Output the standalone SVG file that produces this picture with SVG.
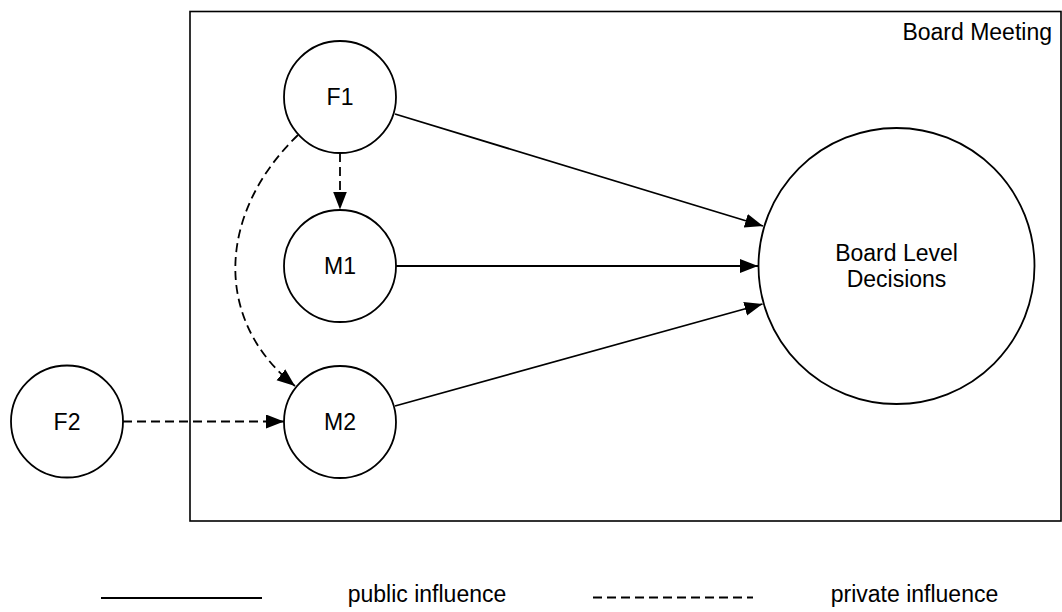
<svg xmlns="http://www.w3.org/2000/svg" width="1062" height="612" viewBox="0 0 1062 612">
<style>
.node{fill:#fff;stroke:#000;stroke-width:1.8}
.lbl{font-family:"Liberation Sans",Arial,sans-serif;font-size:23px;fill:#000;text-anchor:middle}
.edge{fill:none;stroke:#000;stroke-width:1.8}
.dash{stroke-dasharray:9 5}
</style>
<defs>
<marker id="arr" markerUnits="userSpaceOnUse" markerWidth="20" markerHeight="16" refX="18" refY="7" orient="auto">
<path d="M0,0 L18,7 L0,14 z" fill="#000"/>
</marker>
</defs>
<g id="board-meeting">
<rect x="190" y="11.5" width="871" height="509.5" fill="#fff" stroke="#000" stroke-width="1.6"/>
<text class="lbl" x="1052" y="40" style="text-anchor:end">Board Meeting</text>
</g>
<g id="connectors">
<line class="edge" x1="395" y1="114" x2="763" y2="226" marker-end="url(#arr)"/>
<line class="edge" x1="396" y1="266" x2="758" y2="266" marker-end="url(#arr)"/>
<line class="edge" x1="395" y1="406" x2="762.5" y2="304" marker-end="url(#arr)"/>
<line class="edge dash" x1="340" y1="153" x2="340" y2="209.5" marker-end="url(#arr)"/>
<path class="edge dash" d="M298,135 C218,212 212,320 295,386" marker-end="url(#arr)"/>
<line class="edge dash" x1="123" y1="421.5" x2="284" y2="421.5" marker-end="url(#arr)"/>
</g>
<g id="F1"><circle class="node" cx="340" cy="97" r="56"/><text class="lbl" x="340" y="105">F1</text></g>
<g id="M1"><circle class="node" cx="340" cy="266" r="56"/><text class="lbl" x="340" y="274">M1</text></g>
<g id="M2"><circle class="node" cx="340" cy="422" r="56"/><text class="lbl" x="340" y="430">M2</text></g>
<g id="F2"><circle class="node" cx="67" cy="421.5" r="56"/><text class="lbl" x="67" y="430">F2</text></g>
<g id="BLD"><circle class="node" cx="896.5" cy="266" r="138"/>
<text class="lbl" x="896.5" y="261">Board Level</text>
<text class="lbl" x="896.5" y="287">Decisions</text></g>
<g id="legend">
<line class="edge" x1="101" y1="598" x2="262" y2="598"/>
<text class="lbl" x="427" y="602">public influence</text>
<line class="edge dash" x1="593" y1="597.5" x2="753" y2="597.5"/>
<text class="lbl" x="914.5" y="602">private influence</text>
</g>
</svg>
